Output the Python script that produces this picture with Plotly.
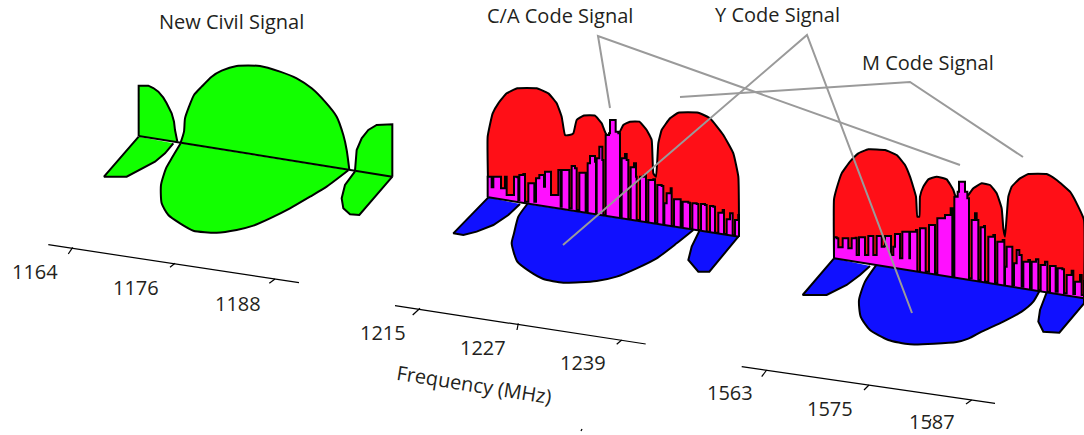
import plotly.graph_objects as go

W, H = 1084, 435
BLACK = "#000000"
GREEN, RED, BLUE, MAG, GRAY = "#12ff00", "#ff0f17", "#1010ff", "#ff10ff", "#9a9a9a"
TEXT = "#231f20"

# --- L5 spectrum (values in panel units)
l5_top_left = [(146,228),(146,77),(175,77),(190,84),(205,95),(220,113),(230,130),(240,148),(245,160),(252,185),(255,210),(262,245)]
l5_low_left = [(146,230),(42,350),(110,350),(150,330),(195,305),(225,280),(250,250)]
l5_top_main = [(272,248),(282,215),(285,175),(297,140),(312,105),(335,80),(365,50),(395,32),(440,18),(510,18),(570,35),(620,55),(665,85),(705,125),(740,170),(760,225),(770,270),(778,329)]
l5_low_main = [(272,250),(245,295),(228,325),(213,375),(215,430),(235,465),(270,490),(310,512),(380,518),(440,510),(490,497),(540,475),(600,445),(660,410),(710,380),(775,331)]
l5_top_right = [(795,332),(800,270),(815,235),(835,210),(860,195),(907,193),(907,350)]
l5_low_right = [(907,350),(808,465),(780,463),(760,445),(755,415),(765,375),(795,334)]
l5_base = [(146,228),(907,350)]

# --- L2 spectrum
l2_red = [(145,352),(143,170),(158,100),(175,70),(200,40),(232,25),(290,25),(325,40),(350,70),(365,110),(375,165),(388,165),(400,160),(410,120),(430,107),(465,107),(485,130),(497,160),(515,180),(537,160),(550,135),(570,125),(598,125),(620,150),(635,180),(640,280),(648,290),(655,190),(665,150),(690,115),(715,98),(775,98),(810,115),(850,165),(880,220),(895,290),(897,470)]
l2_comb = [(143,352),(143,290),(152,290),(155,322),(160,322),(160,290),(178,290),(183,325),(193,325),(195,290),(200,290),(200,345),(218,345),(222,290),(232,292),(235,360),(238,285),(250,282),(255,365),(265,365),(265,310),(278,310),(283,365),(288,295),(298,285),(310,285),(312,320),(315,275),(328,275),(333,345),(352,345),(355,270),(362,270),(362,380),(365,270),(385,270),(388,385),(392,385),(395,258),(405,265),(410,390),(418,390),(418,278),(433,278),(437,395),(443,395),(443,250),(450,228),(465,245),(468,400),(470,235),(478,200),(487,240),(490,405),(493,405),(497,165),(507,160),(510,120),(523,120),(527,155),(535,160),(540,412),(545,412),(545,235),(555,222),(560,240),(565,418),(570,418),(572,262),(582,250),(588,290),(590,420),(597,420),(600,290),(612,285),(618,425),(622,425),(625,300),(640,298),(645,430),(650,430),(652,315),(665,318),(670,435),(673,370),(680,340),(692,325),(695,438),(702,358),(720,358),(722,442),(728,365),(745,368),(750,446),(757,370),(770,372),(775,450),(783,372),(795,375),(800,455),(810,378),(820,380),(825,458),(835,398),(848,390),(852,462),(860,418),(870,400),(878,466),(885,420),(895,405),(897,470)]
l2_blue_left = [(145,352),(40,460),(70,465),(110,455),(160,435),(205,405),(240,372)]
l2_blue_main = [(262,372),(235,410),(222,460),(215,490),(232,545),(270,575),(310,597),(370,608),(470,603),(530,590),(590,565),(650,535),(710,490),(760,450)]
l2_blue_right = [(778,453),(755,500),(745,540),(775,575),(808,575),(895,470)]
l2_base = [(145,352),(897,470)]

# --- L1 spectrum
l1_red = [(132,355),(132,178),(140,145),(155,100),(180,65),(205,40),(235,28),(285,30),(320,45),(345,75),(360,110),(378,170),(382,230),(388,230),(390,170),(400,140),(415,118),(440,110),(470,118),(490,150),(495,165),(515,185),(535,165),(550,145),(575,130),(600,135),(620,160),(635,205),(640,265),(645,290),(650,230),(655,170),(665,140),(690,115),(715,102),(770,102),(800,120),(840,155),(860,190),(882,240),(882,475)]
l1_comb = [(132,355),(132,292),(140,295),(145,322),(155,322),(158,295),(170,295),(175,325),(183,325),(185,295),(197,293),(200,345),(207,345),(207,292),(220,292),(225,345),(232,345),(235,288),(245,288),(250,345),(258,345),(260,288),(272,288),(275,320),(283,318),(285,288),(298,288),(303,345),(310,320),(315,282),(325,282),(330,355),(335,355),(337,275),(352,275),(358,355),(360,275),(378,270),(382,395),(388,395),(390,265),(402,265),(407,395),(413,395),(417,255),(430,255),(435,400),(440,400),(442,235),(460,235),(465,225),(482,205),(487,410),(490,410),(493,170),(503,155),(507,125),(520,125),(525,155),(532,175),(537,415),(542,415),(545,240),(555,220),(560,240),(565,420),(570,420),(572,262),(582,258),(585,425),(592,425),(595,290),(610,285),(615,430),(620,430),(622,305),(638,300),(643,432),(645,380),(650,320),(662,320),(667,435),(672,370),(680,330),(688,345),(695,440),(700,365),(715,360),(720,445),(725,365),(738,358),(745,450),(752,375),(765,365),(772,455),(780,378),(792,378),(797,455),(803,385),(817,388),(822,460),(830,405),(845,392),(850,462),(855,425),(870,405),(875,465),(882,420),(882,475)]
l1_blue_left = [(132,355),(38,465),(110,465),(170,435),(210,405),(240,378)]
l1_blue_main = [(258,376),(225,425),(207,480),(212,530),(240,570),(295,600),(360,613),(500,606),(535,596),(575,575),(640,545),(695,515),(730,485),(748,454)]
l1_blue_right = [(770,457),(750,510),(745,545),(760,575),(808,578),(882,490),(882,475)]
l1_base = [(132,355),(882,475)]

# --- page level items
freq_axes = [[(48.3,244.7),(299,282.7)], [(395,305.7),(645.7,344)], [(741.7,366.7),(995,403.3)]]
tick_marks = [[(72.7,247.3),(68.3,254)],[(175,263.3),(170,267.3)],[(275,279),(269.3,283.3)],
              [(420,308.3),(412.7,315)],[(518.3,323.3),(517,330)],[(621.7,340),(616.7,344.3)],
              [(766.7,370),(761.7,376.7)],[(869,385),(864,390)],[(971.7,400),(966,404)],
              [(582,429),(581,431)],[(931,419),(929,423)]]
tick_labels = ["1164","1176","1188","1215","1227","1239","1563","1575","1587"]
tick_label_x = [34.5,136,238,383,483,583,730,830,932]
tick_label_y = [271,287,303,332,347,362,392,408,421]
leader_lines = [[(610,108),(598,36),(960,165)], [(563,245),(807,35),(912,313)], [(680,97),(910,82),(1023,157)]]
titles = ["New Civil Signal","C/A Code Signal","Y Code Signal","M Code Signal"]
title_x = [231,560,777,928]
title_y = [21,15,14,62]

fig = go.Figure()

def xs(p): return [a for a, _ in p]
def ys(p): return [b for _, b in p]

def poly(p, color, n, width=2, shape="linear", smoothing=None):
    ln = dict(color=BLACK, width=width, shape=shape)
    if smoothing is not None:
        ln["smoothing"] = smoothing
    fig.add_trace(go.Scatter(x=xs(p), y=ys(p), mode="lines", fill="toself", fillcolor=color,
                             line=ln, hoverinfo="skip", xaxis=f"x{n}", yaxis=f"y{n}"))

def line(p, n, color=BLACK, width=2):
    fig.add_trace(go.Scatter(x=xs(p), y=ys(p), mode="lines", line=dict(color=color, width=width),
                             hoverinfo="skip", xaxis=f"x{n}", yaxis=f"y{n}"))

SMOOTH = dict(shape="spline", smoothing=0.6)
SOFT = dict(shape="spline", smoothing=0.35)
poly(l5_top_left, GREEN, 1)
poly(l5_low_left, GREEN, 1)
poly(l5_top_main, GREEN, 1, **SMOOTH)
poly(l5_low_main, GREEN, 1, **SMOOTH)
poly(l5_top_right, GREEN, 1)
poly(l5_low_right, GREEN, 1)
line(l5_base, 1)

poly(l2_red, RED, 2, **SOFT)
poly(l2_comb, MAG, 2, shape="hv")
poly(l2_blue_left, BLUE, 2)
poly(l2_blue_main, BLUE, 2, **SMOOTH)
poly(l2_blue_right, BLUE, 2)
line(l2_base, 2)

poly(l1_red, RED, 3, **SOFT)
poly(l1_comb, MAG, 3, shape="hv")
poly(l1_blue_left, BLUE, 3)
poly(l1_blue_main, BLUE, 3, **SMOOTH)
poly(l1_blue_right, BLUE, 3)
line(l1_base, 3)

for p in freq_axes + tick_marks:
    line(p, 4, width=1.2)
for p in leader_lines:
    line(p, 4, color=GRAY, width=2)

anns = []
for t, x, y in zip(tick_labels, tick_label_x, tick_label_y):
    anns.append(dict(text=t, x=x, y=y, font_size=20))
for t, x, y in zip(titles, title_x, title_y):
    anns.append(dict(text=t, x=x, y=y, font_size=20))
anns.append(dict(text="Frequency (MHz)", x=474, y=384, font_size=20, textangle=9))
for a in anns:
    a.update(xref="x4", yref="y4", showarrow=False, xanchor="center", yanchor="middle")
    a["font"] = dict(family="Open Sans", color=TEXT, size=a.pop("font_size"))

hidden = dict(visible=False, fixedrange=True)
layout = dict(
    width=W, height=H, autosize=False, showlegend=False,
    paper_bgcolor="white", plot_bgcolor="rgba(0,0,0,0)",
    margin=dict(l=0, r=0, t=0, b=0), annotations=anns,
)
# each panel: page window (left, top, right, bottom) and panel-unit extent
panels = {1: (90, 60, 410, 250, 960, 570), 2: (440, 80, 760, 290, 960, 630), 3: (790, 140, 1084, 350, 882, 630)}
for n, (l, t, r, b, ux, uy) in panels.items():
    s = "" if n == 1 else str(n)
    layout[f"xaxis{s}"] = dict(domain=[l / W, r / W], range=[0, ux], anchor=f"y{s}", **hidden)
    layout[f"yaxis{s}"] = dict(domain=[1 - b / H, 1 - t / H], range=[uy, 0], anchor=f"x{s}", **hidden)
layout["xaxis4"] = dict(domain=[0, 1], range=[0, W], anchor="y4", **hidden)
layout["yaxis4"] = dict(domain=[0, 1], range=[H, 0], anchor="x4", **hidden)
fig.update_layout(**layout)
fig.write_html("out.html", config=dict(displayModeBar=False),
               post_script="document.body.style.margin='0';document.body.style.overflow='hidden';")
